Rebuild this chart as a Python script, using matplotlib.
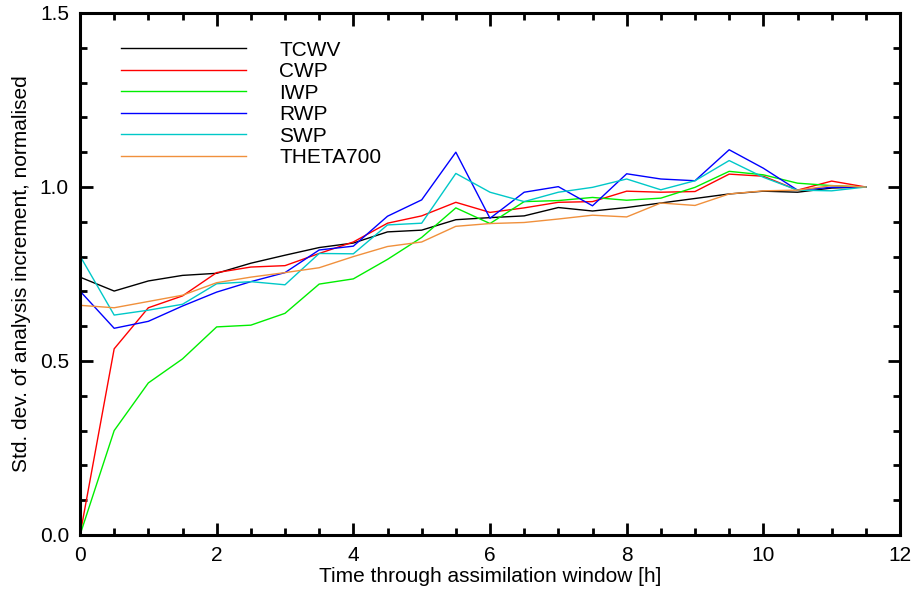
import matplotlib
matplotlib.use("Agg")
import matplotlib.pyplot as plt
from matplotlib.ticker import MultipleLocator

# data
hours = [0.0, 0.5, 1.0, 1.5, 2.0, 2.5, 3.0, 3.5, 4.0, 4.5, 5.0, 5.5,
         6.0, 6.5, 7.0, 7.5, 8.0, 8.5, 9.0, 9.5, 10.0, 10.5, 11.0, 11.5]

tcwv = [0.741, 0.701, 0.730, 0.746, 0.752, 0.781, 0.804, 0.826, 0.839, 0.871, 0.876, 0.906,
        0.912, 0.917, 0.941, 0.931, 0.941, 0.954, 0.967, 0.980, 0.988, 0.985, 0.997, 1.000]
cwp = [0.000, 0.535, 0.653, 0.687, 0.754, 0.770, 0.774, 0.809, 0.842, 0.896, 0.917, 0.956,
       0.927, 0.940, 0.956, 0.958, 0.988, 0.985, 0.987, 1.037, 1.031, 0.991, 1.017, 1.000]
iwp = [0.000, 0.300, 0.437, 0.506, 0.598, 0.603, 0.637, 0.721, 0.736, 0.792, 0.855, 0.940,
       0.895, 0.958, 0.961, 0.970, 0.962, 0.968, 0.999, 1.045, 1.035, 1.011, 1.004, 1.000]
rwp = [0.701, 0.594, 0.614, 0.658, 0.698, 0.728, 0.754, 0.819, 0.830, 0.916, 0.963, 1.100,
       0.910, 0.985, 1.001, 0.946, 1.038, 1.023, 1.018, 1.107, 1.054, 0.991, 0.999, 1.000]
swp = [0.802, 0.632, 0.646, 0.663, 0.722, 0.728, 0.719, 0.809, 0.808, 0.891, 0.896, 1.039,
       0.985, 0.958, 0.985, 0.999, 1.023, 0.992, 1.018, 1.076, 1.028, 0.991, 0.989, 1.000]
theta700 = [0.660, 0.653, 0.671, 0.689, 0.725, 0.741, 0.754, 0.768, 0.800, 0.829, 0.842, 0.887,
            0.895, 0.898, 0.908, 0.919, 0.914, 0.954, 0.947, 0.980, 0.989, 0.991, 1.004, 1.000]

names = ["TCWV", "CWP", "IWP", "RWP", "SWP", "THETA700"]
colours = ["black", "#ff0000", "#00ee00", "#0000ff", "#00c8c8", "#f0903c"]

plt.rcParams['font.family'] = ['Liberation Sans', 'DejaVu Sans']
fs = 15

fig = plt.figure(figsize=(9.13, 5.93), dpi=100)
ax = fig.add_axes([80/913, 58/593, 820/913, 522/593])

for vals, name, col in zip([tcwv, cwp, iwp, rwp, swp, theta700], names, colours):
    ax.plot(hours, vals, color=col, lw=1.0, label=name)

ax.set_xlim(0, 12)
ax.set_ylim(0, 1.5)
ax.xaxis.set_major_locator(MultipleLocator(2))
ax.xaxis.set_minor_locator(MultipleLocator(0.5))
ax.yaxis.set_major_locator(MultipleLocator(0.5))
ax.yaxis.set_minor_locator(MultipleLocator(0.1))
ax.yaxis.set_major_formatter(matplotlib.ticker.FormatStrFormatter('%.1f'))
ax.tick_params(which='both', direction='in', top=True, right=True, width=2.0,
               labelsize=fs, pad=8)
ax.tick_params(which='major', length=9)
ax.tick_params(which='minor', length=5)
for s in ax.spines.values():
    s.set_linewidth(2.2)

ax.set_xlabel("Time through assimilation window [h]", fontsize=fs, labelpad=1)
ax.set_ylabel("Std. dev. of analysis increment, normalised", fontsize=fs, labelpad=6)

ax.legend(loc='upper left', bbox_to_anchor=(0.04, 0.963), frameon=False,
          fontsize=fs, handlelength=6.0, handletextpad=1.6, labelspacing=0.12,
          borderaxespad=0)

fig.savefig("out.png", dpi=100)
